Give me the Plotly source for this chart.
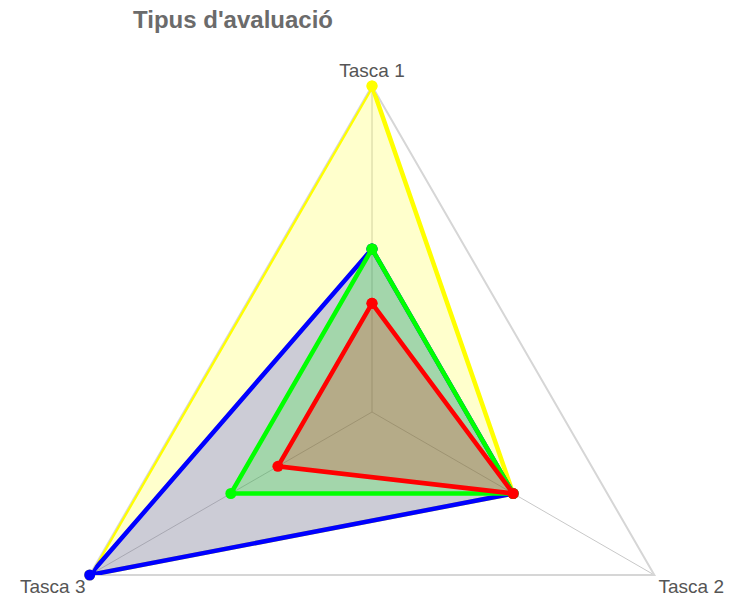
import plotly.graph_objects as go

categories = ["Tasca 1", "Tasca 2", "Tasca 3"]
series_names = ["Groc", "Blau", "Verd", "Vermell"]
yellow_vals = [3, 1.5, 3]
blue_vals = [1.5, 1.5, 3]
green_vals = [1.5, 1.5, 1.5]
red_vals = [1, 1.5, 1]

line_colors = ["#ffff00", "#0000ff", "#00ff00", "#ff0000"]
fill_colors = ["rgba(255,255,0,0.2)", "rgba(0,0,255,0.2)", "rgba(0,255,0,0.2)", "rgba(255,0,0,0.2)"]
all_vals = [yellow_vals, blue_vals, green_vals, red_vals]

fig = go.Figure()
for name, vals, lc, fc in zip(series_names, all_vals, line_colors, fill_colors):
    fig.add_trace(go.Scatterpolar(
        r=vals + vals[:1],
        theta=categories + categories[:1],
        mode="lines+markers",
        fill="toself",
        fillcolor=fc,
        line=dict(color=lc, width=4.5),
        marker=dict(color=lc, size=11, line=dict(width=0)),
        name=name,
        showlegend=False,
        cliponaxis=False,
    ))

W, H = 737, 748
CX, CY, R = 372, 412, 326
fig.update_layout(
    width=W, height=H,
    margin=dict(l=0, r=0, t=0, b=0),
    paper_bgcolor="white",
    plot_bgcolor="white",
    font=dict(family="Liberation Sans, Arial, sans-serif", color="#555555"),
    title=dict(text="<b>Tipus d'avaluació</b>", x=133 / W, xanchor="left",
               y=1 - 20 / H, yanchor="middle",
               font=dict(size=24, color="#6b6b6b")),
    polar=dict(
        domain=dict(x=[(CX - R) / W, (CX + R) / W], y=[1 - (CY + R) / H, 1 - (CY - R) / H]),
        gridshape="linear",
        bgcolor="white",
        angularaxis=dict(
            direction="clockwise", rotation=90,
            showline=True, linecolor="#d6d6d6", linewidth=2,
            showgrid=True, gridcolor="#c8c8c8", gridwidth=1,
            ticks="", tickfont=dict(size=19, color="#555555"),
            layer="below traces",
        ),
        radialaxis=dict(
            range=[0, 3], visible=True, showticklabels=False, ticks="",
            showgrid=False, showline=False, layer="below traces",
        ),
    ),
)

fig.write_html(
    "out.html",
    config={"displayModeBar": False},
    post_script="document.body.style.margin='0';document.body.style.overflow='hidden';",
)
